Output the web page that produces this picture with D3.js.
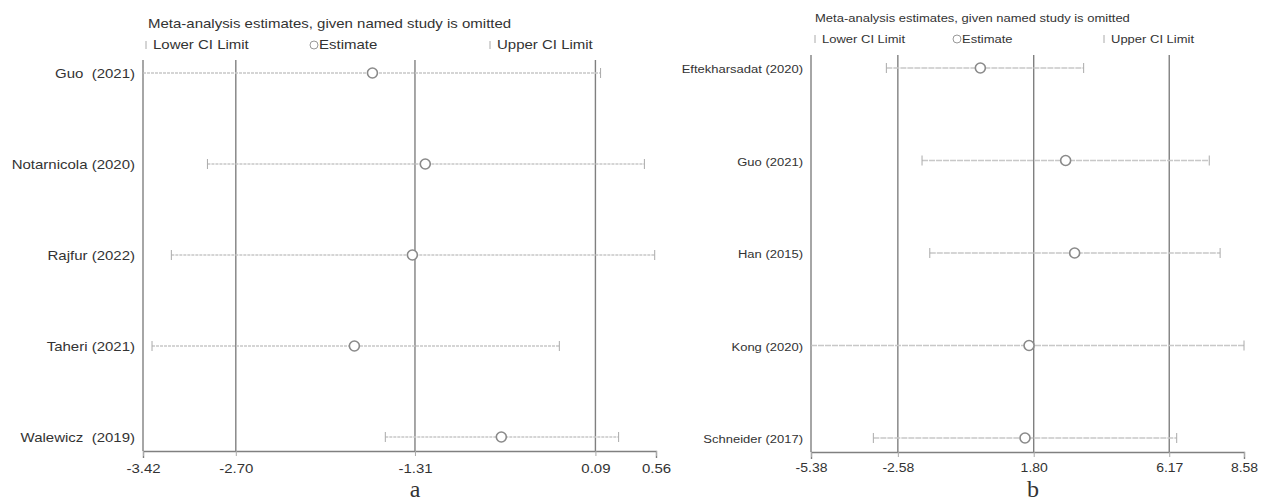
<!DOCTYPE html>
<html>
<head>
<meta charset="utf-8">
<script src="https://cdn.jsdelivr.net/npm/d3@7"></script>
<style>
  body { margin: 0; background: #fff; }
  svg text { font-family: "Liberation Sans", Arial, sans-serif; fill: #333; white-space: pre; }
</style>
</head>
<body>
<div id="chart"></div>
<script>
// panel a
var studiesA = ["Guo  (2021)", "Notarnicola (2020)", "Rajfur (2022)", "Taheri (2021)", "Walewicz  (2019)"];
var estA   = [-1.64, -1.23, -1.33, -1.78, -0.64];
var lowerA = [-3.42, -2.92, -3.20, -3.35, -1.54];
var upperA = [ 0.13,  0.47,  0.55, -0.19,  0.27];
var ticksA = [-3.42, -2.70, -1.31, 0.09, 0.56];
var gridA  = [-2.70, -1.31, 0.09];

// panel b
var studiesB = ["Eftekharsadat (2020)", "Guo (2021)", "Han (2015)", "Kong (2020)", "Schneider (2017)"];
var estB   = [0.08, 2.83, 3.12, 1.65, 1.52];
var lowerB = [-2.95, -1.80, -1.55, -5.38, -3.37];
var upperB = [3.41, 7.46, 7.81, 8.58, 6.41];
var ticksB = [-5.38, -2.58, 1.80, 6.17, 8.58];
var gridB  = [-2.58, 1.80, 6.17];

var title = "Meta-analysis estimates, given named study is omitted";

var svg = d3.select("#chart").append("svg")
  .attr("width", 1269).attr("height", 503);

var fmt = function(d) { return d3.format(".2f")(d).replace("\u2212", "-"); };

// text that is a bit squashed vertically, like the scanned figure
var txt = function(g, x, y, s, size, sy, anchor) {
  return g.append("text")
    .attr("transform", "translate(" + x + "," + y + ") scale(1," + sy + ")")
    .attr("text-anchor", anchor || "start")
    .attr("font-size", size).text(s);
};

var panel = function(p) {
  var x = d3.scaleLinear().domain([p.ticks[0], p.ticks[p.ticks.length - 1]]).range([p.x0, p.x1]);
  var y = d3.scalePoint().domain(p.studies).range([p.yFirst, p.yLast]);
  var g = svg.append("g");
  var fs = p.fs, sy = p.sy;

  // title + legend
  txt(g, p.titleX, p.titleY, title, fs, sy);
  var ly = p.legY;
  g.append("line").attr("x1", p.legLo).attr("x2", p.legLo).attr("y1", ly - 8).attr("y2", ly)
    .attr("stroke", "#aaa");
  txt(g, p.legLo + 7, ly, "Lower CI Limit", fs, sy);
  g.append("circle").attr("cx", p.legEst).attr("cy", ly - 4).attr("r", 4)
    .attr("fill", "none").attr("stroke", "#999");
  txt(g, p.legEst + 5, ly, "Estimate", fs, sy);
  g.append("line").attr("x1", p.legUp).attr("x2", p.legUp).attr("y1", ly - 8).attr("y2", ly)
    .attr("stroke", "#aaa");
  txt(g, p.legUp + 7, ly, "Upper CI Limit", fs, sy);

  // left frame line and grid lines
  g.append("line").attr("x1", p.x0).attr("x2", p.x0)
    .attr("y1", p.top).attr("y2", p.axisY).attr("stroke", "#808080").attr("stroke-width", 1.4);
  g.selectAll(".grid").data(p.grid).enter().append("line")
    .attr("x1", function(d) { return x(d); }).attr("x2", function(d) { return x(d); })
    .attr("y1", p.top).attr("y2", p.axisY)
    .attr("stroke", "#808080").attr("stroke-width", 1.4);

  // bottom axis
  var ax = g.append("g").attr("transform", "translate(0," + p.axisY + ")")
    .call(d3.axisBottom(x).tickValues(p.ticks).tickFormat(fmt)
      .tickSizeInner(5).tickSizeOuter(7));
  ax.select(".domain").attr("stroke", "#808080").attr("stroke-width", 1.4);
  ax.selectAll(".tick line").attr("stroke", "#aaa");
  ax.selectAll("text")
    .attr("y", 0).attr("dy", null)
    .attr("transform", "translate(0," + p.tickY + ") scale(1," + sy + ")")
    .attr("font-size", p.tfs).attr("fill", "#333")
    .attr("font-family", "\"Liberation Sans\", Arial, sans-serif");

  // rows
  var rows = p.studies.map(function(s, i) {
    return {name: s, est: p.est[i], lo: p.lower[i], hi: p.upper[i]};
  });
  rows.forEach(function(d) {
    txt(g, p.x0 - 8, y(d.name) + 5, d.name, fs, sy, "end");
  });
  var r = g.selectAll(".row").data(rows).enter().append("g");
  r.append("line")
    .attr("x1", function(d) { return x(d.lo); }).attr("x2", function(d) { return x(d.hi); })
    .attr("y1", function(d) { return y(d.name); }).attr("y2", function(d) { return y(d.name); })
    .attr("stroke", "#c8c8c8").attr("stroke-width", 1.3).attr("stroke-dasharray", p.dash);
  r.append("line")
    .attr("x1", function(d) { return x(d.lo); }).attr("x2", function(d) { return x(d.lo); })
    .attr("y1", function(d) { return y(d.name) - 5; }).attr("y2", function(d) { return y(d.name) + 5; })
    .attr("stroke", "#aaa");
  r.append("line")
    .attr("x1", function(d) { return x(d.hi); }).attr("x2", function(d) { return x(d.hi); })
    .attr("y1", function(d) { return y(d.name) - 5; }).attr("y2", function(d) { return y(d.name) + 5; })
    .attr("stroke", "#aaa");
  r.append("circle")
    .attr("cx", function(d) { return x(d.est); }).attr("cy", function(d) { return y(d.name); })
    .attr("r", 5).attr("fill", "#fff").attr("stroke", "#8a8a8a").attr("stroke-width", 1.6);

  // panel letter
  svg.append("text").attr("x", p.letterX).attr("y", 497).attr("text-anchor", "middle")
    .attr("font-size", 24).style("font-family", "\"Liberation Serif\", \"Times New Roman\", serif")
    .attr("fill", "#111").text(p.letter);
};

panel({studies: studiesA, est: estA, lower: lowerA, upper: upperA, ticks: ticksA, grid: gridA,
  x0: 143, x1: 656, yFirst: 73, yLast: 437, top: 60, axisY: 451, fs: 15, tfs: 15, sy: 0.82,
  tickY: 22, titleX: 148, titleY: 28, legY: 49, legLo: 146, legEst: 314, legUp: 490,
  dash: "3,1", letter: "a", letterX: 415});
panel({studies: studiesB, est: estB, lower: lowerB, upper: upperB, ticks: ticksB, grid: gridB,
  x0: 811, x1: 1244, yFirst: 68, yLast: 438, top: 55, axisY: 452, fs: 13, tfs: 14, sy: 0.9,
  tickY: 20, titleX: 815, titleY: 22, legY: 43, legLo: 815, legEst: 957, legUp: 1104,
  dash: "6,1", letter: "b", letterX: 1033});
</script>
</body>
</html>
